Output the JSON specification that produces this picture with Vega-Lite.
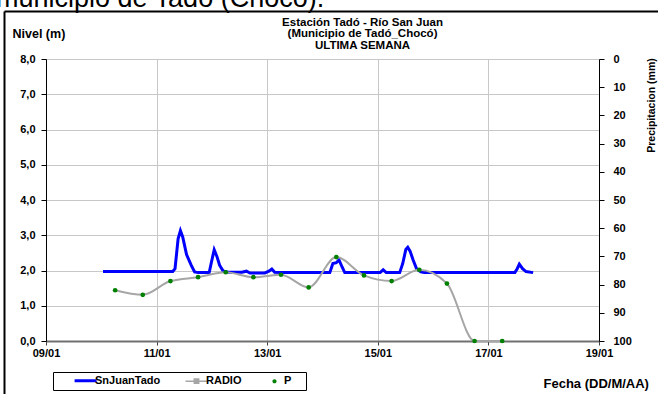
{
  "$schema": "https://vega.github.io/schema/vega-lite/v6.json",
  "width": 553,
  "height": 282,
  "autosize": "none",
  "padding": {"left": 46, "top": 59, "right": 59, "bottom": 53},
  "background": "white",
  "config": {
    "view": {"stroke": null},
    "font": "Liberation Sans",
    "axis": {"labelFont": "Liberation Sans", "titleFont": "Liberation Sans", "labelColor": "black", "titleColor": "black"}
  },
  "title": {
    "text": "municipio de Tadó (Chocó).",
    "font": "Liberation Sans",
    "fontSize": 27,
    "fontWeight": "normal",
    "color": "black",
    "anchor": "start",
    "frame": "group",
    "dx": -50,
    "offset": -2
  },
  "datasets": {
    "nivel": [
      {"t": "2010-01-10T00:45", "v": 1.97},
      {"t": "2010-01-11T07:00", "v": 1.97},
      {"t": "2010-01-11T08:00", "v": 2.05},
      {"t": "2010-01-11T09:20", "v": 2.9},
      {"t": "2010-01-11T10:20", "v": 3.13},
      {"t": "2010-01-11T11:20", "v": 2.95},
      {"t": "2010-01-11T13:00", "v": 2.45},
      {"t": "2010-01-11T15:00", "v": 2.15},
      {"t": "2010-01-11T16:30", "v": 1.96},
      {"t": "2010-01-11T18:00", "v": 1.94},
      {"t": "2010-01-11T22:50", "v": 1.94},
      {"t": "2010-01-11T23:50", "v": 2.25},
      {"t": "2010-01-12T01:00", "v": 2.59},
      {"t": "2010-01-12T02:10", "v": 2.4},
      {"t": "2010-01-12T03:20", "v": 2.15},
      {"t": "2010-01-12T04:50", "v": 1.99},
      {"t": "2010-01-12T07:00", "v": 1.95},
      {"t": "2010-01-12T13:00", "v": 1.95},
      {"t": "2010-01-12T15:00", "v": 1.98},
      {"t": "2010-01-12T16:30", "v": 1.93},
      {"t": "2010-01-12T23:00", "v": 1.93},
      {"t": "2010-01-13T00:45", "v": 1.98},
      {"t": "2010-01-13T02:00", "v": 2.04},
      {"t": "2010-01-13T03:15", "v": 1.95},
      {"t": "2010-01-13T05:00", "v": 1.94},
      {"t": "2010-01-14T03:10", "v": 1.94},
      {"t": "2010-01-14T04:30", "v": 2.2},
      {"t": "2010-01-14T06:00", "v": 2.22},
      {"t": "2010-01-14T07:10", "v": 2.3},
      {"t": "2010-01-14T08:30", "v": 2.1},
      {"t": "2010-01-14T09:40", "v": 1.94},
      {"t": "2010-01-15T01:00", "v": 1.94},
      {"t": "2010-01-15T02:20", "v": 2.02},
      {"t": "2010-01-15T03:40", "v": 1.94},
      {"t": "2010-01-15T09:30", "v": 1.94},
      {"t": "2010-01-15T10:50", "v": 2.2},
      {"t": "2010-01-15T12:10", "v": 2.6},
      {"t": "2010-01-15T13:00", "v": 2.66},
      {"t": "2010-01-15T14:00", "v": 2.55},
      {"t": "2010-01-15T15:20", "v": 2.3},
      {"t": "2010-01-15T16:50", "v": 2.05},
      {"t": "2010-01-15T18:40", "v": 1.96},
      {"t": "2010-01-15T20:10", "v": 1.94},
      {"t": "2010-01-17T11:30", "v": 1.94},
      {"t": "2010-01-17T12:30", "v": 2.05},
      {"t": "2010-01-17T13:25", "v": 2.18},
      {"t": "2010-01-17T14:50", "v": 2.05},
      {"t": "2010-01-17T16:20", "v": 1.97},
      {"t": "2010-01-17T19:25", "v": 1.94}
    ],
    "radio": [
      {"t": "2010-01-10T06:00", "v": 1.44},
      {"t": "2010-01-10T18:00", "v": 1.31},
      {"t": "2010-01-11T06:00", "v": 1.7},
      {"t": "2010-01-11T18:00", "v": 1.81},
      {"t": "2010-01-12T06:00", "v": 1.95},
      {"t": "2010-01-12T18:00", "v": 1.81},
      {"t": "2010-01-13T06:00", "v": 1.88},
      {"t": "2010-01-13T18:00", "v": 1.52},
      {"t": "2010-01-14T06:00", "v": 2.38},
      {"t": "2010-01-14T18:00", "v": 1.86},
      {"t": "2010-01-15T06:00", "v": 1.7},
      {"t": "2010-01-15T18:00", "v": 2.02},
      {"t": "2010-01-16T06:00", "v": 1.63},
      {"t": "2010-01-16T18:00", "v": 0.0},
      {"t": "2010-01-17T06:00", "v": 0.0}
    ],
    "precip": [],
    "marco": []
  },
  "layer": [
    {
      "data": {"name": "nivel"},
      "mark": {"type": "line", "strokeWidth": 3, "color": "#0000FF"},
      "encoding": {
        "x": {
          "field": "t", "type": "temporal",
          "scale": {"domain": [{"year": 2010, "month": 1, "date": 9}, {"year": 2010, "month": 1, "date": 19}]},
          "axis": {
            "orient": "bottom",
            "values": [
              {"year": 2010, "month": 1, "date": 9},
              {"year": 2010, "month": 1, "date": 11},
              {"year": 2010, "month": 1, "date": 13},
              {"year": 2010, "month": 1, "date": 15},
              {"year": 2010, "month": 1, "date": 17},
              {"year": 2010, "month": 1, "date": 19}
            ],
            "format": "%d/%m",
            "labelFontSize": 11, "labelFontWeight": "bold", "labelPadding": 2,
            "labelFlush": false, "labelOverlap": false,
            "tickSize": 4, "tickColor": "#404040",
            "domainColor": "#707070", "domainWidth": 2,
            "grid": true, "gridColor": "#C8C8C8", "gridWidth": 1,
            "title": "Fecha (DD/M/AA)", "titleFontSize": 13, "titleFontWeight": "bold",
            "titleX": 497, "titleY": 42, "titleAlign": "left", "titleBaseline": "middle", "titleAnchor": null
          }
        },
        "y": {
          "field": "v", "type": "quantitative",
          "scale": {"domain": [0, 8], "nice": false},
          "axis": {
            "orient": "left",
            "values": [0, 1, 2, 3, 4, 5, 6, 7, 8],
            "labelExpr": "replace(format(datum.value, '.1f'), '.', ',')",
            "labelFontSize": 11, "labelFontWeight": "bold", "labelPadding": 6,
            "tickSize": 5, "tickColor": "black", "domainColor": "black",
            "grid": true, "gridColor": "#C8C8C8", "gridWidth": 1,
            "title": "Nivel (m)", "titleAngle": 0, "titleX": -34, "titleY": -26,
            "titleAlign": "left", "titleBaseline": "middle", "titleAnchor": null,
            "titleFontSize": 12.5, "titleFontWeight": "bold"
          }
        },
        "color": {
          "datum": "SnJuanTado",
          "scale": {"domain": ["SnJuanTado", "RADIO", "P"], "range": ["#0000FF", "#A6A6A6", "#008000"]},
          "legend": {
            "title": null,
            "orient": "none", "legendX": 7, "legendY": 313,
            "direction": "horizontal",
            "strokeColor": "black", "fillColor": "white", "padding": 3,
            "labelFont": "Liberation Sans", "labelFontWeight": "bold", "labelFontSize": 11, "labelColor": "black",
            "labelOffset": 4, "columnPadding": 21, "symbolSize": 484,
            "encode": {
              "legend": {
                "update": {
                  "stroke": {"value": "black"},
                  "strokeWidth": {"value": 1},
                  "fill": {"value": "white"}
                }
              },
              "labels": {
                "update": {
                  "dx": {"signal": "datum.value === 'SnJuanTado' ? 24 : 0"}
                }
              },
              "symbols": {
                "update": {
                  "shape": {"signal": "datum.value === 'P' ? 'M-1,0H2.55M-0.19,0A0.19,0.19 0 1,0 0.19,0A0.19,0.19 0 1,0 -0.19,0Z' : (datum.value === 'RADIO' ? 'M-1,0H-0.2M0.2,0H1M-0.2,-0.2H0.2V0.2H-0.2Z' : 'M1.19,0H3.19')"},
                  "size": {"value": 484},
                  "fill": {"signal": "datum.value === 'SnJuanTado' ? 'transparent' : '#008000'"},
                  "stroke": {"signal": "datum.value === 'SnJuanTado' ? '#0000FF' : (datum.value === 'RADIO' ? '#A6A6A6' : 'transparent')"},
                  "strokeWidth": {"signal": "datum.value === 'SnJuanTado' ? 3 : (datum.value === 'RADIO' ? 1.5 : 0)"},
                  "opacity": {"value": 1}
                }
              }
            }
          }
        }
      }
    },
    {
      "data": {"name": "radio"},
      "mark": {"type": "line", "strokeWidth": 2, "color": "#A6A6A6", "interpolate": "monotone"},
      "encoding": {
        "x": {"field": "t", "type": "temporal", "scale": {"domain": [{"year": 2010, "month": 1, "date": 9}, {"year": 2010, "month": 1, "date": 19}]}, "axis": null},
        "y": {"field": "v", "type": "quantitative", "scale": {"domain": [0, 8], "nice": false}, "axis": null},
        "color": {"datum": "RADIO"}
      }
    },
    {
      "data": {"name": "radio"},
      "mark": {"type": "point", "filled": true, "size": 22, "color": "#008000", "opacity": 1},
      "encoding": {
        "x": {
          "field": "t", "type": "temporal",
          "scale": {"domain": [{"year": 2010, "month": 1, "date": 9}, {"year": 2010, "month": 1, "date": 19}]},
          "axis": {
            "orient": "top", "labels": false, "ticks": false, "domain": false, "grid": false,
            "title": ["Estación Tadó - Río San Juan", "(Municipio de Tadó_Chocó)", "ULTIMA SEMANA"],
            "titleFontSize": 11.5, "titleFontWeight": "bold", "titleLineHeight": 11.5,
            "titleX": 316, "titleY": -43, "titleAlign": "center", "titleBaseline": "top", "titleAnchor": null
          }
        },
        "y": {"field": "v", "type": "quantitative", "scale": {"domain": [0, 8], "nice": false}, "axis": null}
      }
    },
    {
      "data": {"name": "precip"},
      "mark": {"type": "point", "filled": true, "size": 22, "color": "#008000"},
      "encoding": {
        "x": {"field": "t", "type": "temporal", "scale": {"domain": [{"year": 2010, "month": 1, "date": 9}, {"year": 2010, "month": 1, "date": 19}]}, "axis": null},
        "y": {
          "field": "p", "type": "quantitative",
          "scale": {"domain": [0, 100], "reverse": true, "nice": false},
          "axis": {
            "orient": "right",
            "values": [0, 10, 20, 30, 40, 50, 60, 70, 80, 90, 100],
            "labelFontSize": 11, "labelFontWeight": "bold", "labelPadding": 9,
            "tickSize": 5, "tickColor": "black", "domainColor": "black", "grid": false,
            "title": "Precipitacion (mm)", "titleAngle": 270, "titleX": 52, "titleY": 46,
            "titleAlign": "center", "titleBaseline": "middle", "titleAnchor": null,
            "titleFontSize": 10.5, "titleFontWeight": "bold"
          }
        },
        "color": {"datum": "P"}
      }
    },
    {
      "data": {"name": "marco"},
      "mark": {"type": "point", "opacity": 0},
      "encoding": {
        "x": {
          "field": "fx", "type": "quantitative",
          "scale": {"domain": [0, 1], "range": [-42, 612], "nice": false, "zero": false},
          "axis": {"orient": "top", "offset": 48, "labels": false, "ticks": false, "grid": false, "title": null, "domain": true, "domainColor": "black", "domainWidth": 2}
        },
        "y": {
          "field": "fy", "type": "quantitative",
          "scale": {"domain": [0, 1], "range": [340, -48], "nice": false, "zero": false},
          "axis": {"orient": "left", "offset": 42, "labels": false, "ticks": false, "grid": false, "title": null, "domain": true, "domainColor": "black", "domainWidth": 2}
        }
      }
    }
  ],
  "resolve": {
    "scale": {"x": "independent", "y": "independent"},
    "axis": {"x": "independent", "y": "independent"}
  }
}
